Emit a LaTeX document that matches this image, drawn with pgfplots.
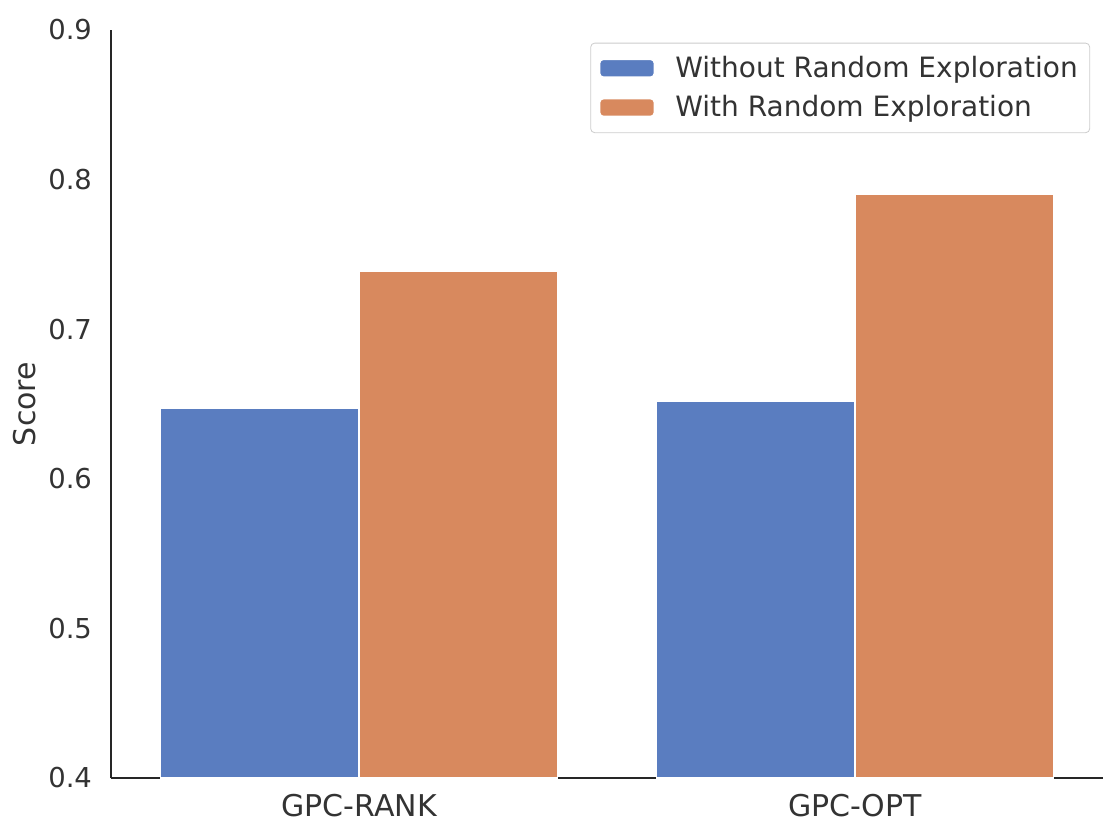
\documentclass[border=0pt]{standalone}
\usepackage{pgfplots}
\pgfplotsset{compat=1.18}
\usepackage{fontspec}
\setmainfont{DejaVu Sans}
\definecolor{cblue}{HTML}{5A7DC0}
\definecolor{corange}{HTML}{D8895E}
\definecolor{axisgray}{HTML}{262626}
\definecolor{txtgray}{HTML}{333333}

\begin{document}
\begin{tikzpicture}
% fix the page to the reference proportions (1px = 0.5pt)
\path[use as bounding box] (-55.5pt,-29pt) rectangle (504pt,389pt);
\begin{axis}[
    name=ax,
    at={(0,0)}, anchor=south west,
    scale only axis,
    width=496pt, height=374pt,
    xmin=-0.5, xmax=1.5,
    ymin=0.4, ymax=0.9,
    xtick={0,1},
    xticklabels={GPC-RANK, GPC-OPT},
    ytick={0.4,0.5,0.6,0.7,0.8,0.9},
    major tick length=0pt,
    axis x line*=bottom,
    axis y line*=left,
    axis line style={axisgray, line width=1pt, -},
    /pgf/number format/fixed,
    /pgf/number format/precision=1,
    /pgf/number format/assume math mode=true,
    yticklabel style={font=\fontsize{13.7}{16}\selectfont, text=txtgray, xshift=-6pt},
    xticklabel style={font=\fontsize{15}{18}\selectfont, text=txtgray, yshift=-4.5pt},
    ylabel={Score},
    % the node is rotated, so its local y points left
    ylabel style={font=\fontsize{15}{18}\selectfont, text=txtgray,
        at={(axis description cs:0,0.5)}, anchor=base, xshift=0pt, yshift=37.5pt},
    ybar=0pt,
    bar width=0.4,
    legend style={
        at={(0.987,0.983)}, anchor=north east,
        draw=black!20, rounded corners=2pt,
        font=\fontsize{14}{16}\selectfont, text=txtgray,
        row sep=3.5pt, inner xsep=4pt, inner ysep=4.5pt,
        cells={anchor=west},
        /tikz/every odd column/.append style={column sep=8pt},
    },
    legend image code/.code={
        \fill[#1] (0pt,-4.5pt) rectangle (27.5pt,4.5pt);
    },
]
\addplot[fill=cblue, draw=white, line width=0.8pt, bar shift=-0.2] coordinates {(0,0.647) (1,0.652)};
\addplot[fill=corange, draw=white, line width=0.8pt, bar shift=0.2] coordinates {(0,0.739) (1,0.790)};
\legend{Without Random Exploration, With Random Exploration}
\end{axis}
\end{tikzpicture}
\end{document}
